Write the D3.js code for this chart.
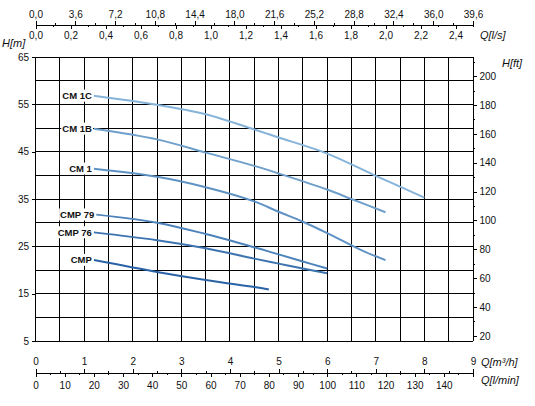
<!DOCTYPE html>
<html>
<head>
<meta charset="utf-8">
<script src="https://cdn.jsdelivr.net/npm/d3@7"></script>
<style>
  html, body { margin: 0; padding: 0; background: #fff; }
  svg { display: block; font-family: "Liberation Sans", Arial, sans-serif; }
</style>
</head>
<body>
<svg id="chart" width="535" height="406"></svg>
<script>
// ---- Data (Q in m3/h, H in m) ----
const seriesNames = ["CM 1C", "CM 1B", "CM 1", "CMP 79", "CMP 76", "CMP"];
const seriesColors = ["#86b3d9", "#6f9fcb", "#5f92c4", "#4d83bb", "#3d74b0", "#2a62a6"];
const qCM1C  = [1.2, 2.5, 3.5, 4.5, 5.0, 6.0, 7.0, 8.0];
const hCM1C  = [56.8, 54.9, 52.9, 49.7, 48.0, 44.6, 39.9, 35.3];
const qCM1B  = [1.2, 2.5, 3.5, 4.5, 5.0, 6.0, 6.5, 7.2];
const hCM1B  = [49.85, 47.6, 44.8, 42.0, 40.4, 37.0, 35.0, 32.2];
const qCM1   = [1.2, 2.5, 3.5, 4.5, 5.0, 5.5, 6.0, 6.7, 7.2];
const hCM1   = [41.4, 39.7, 37.5, 34.5, 32.3, 30.2, 27.8, 24.2, 22.1];
const qCMP79 = [1.25, 2.5, 3.5, 4.5, 5.0, 5.5, 6.0];
const hCMP79 = [31.7, 30.0, 27.6, 24.8, 23.3, 21.8, 20.3];
const qCMP76 = [1.2, 2.5, 3.5, 4.5, 5.0, 5.5, 6.0];
const hCMP76 = [27.95, 26.3, 24.6, 22.4, 21.35, 20.3, 19.3];
const qCMP   = [1.2, 2.5, 3.5, 4.5, 4.8];
const hCMP   = [22.1, 19.6, 17.9, 16.4, 15.9];
const seriesQ = [qCM1C, qCM1B, qCM1, qCMP79, qCMP76, qCMP];
const seriesH = [hCM1C, hCM1B, hCM1, hCMP79, hCMP76, hCMP];

// tick labels
const hTicks    = [5, 15, 25, 35, 45, 55, 65];
const ftTicks   = [20, 40, 60, 80, 100, 120, 140, 160, 180, 200];
const m3hTicks  = [0, 1, 2, 3, 4, 5, 6, 7, 8, 9];
const lminTicks = [0, 10, 20, 30, 40, 50, 60, 70, 80, 90, 100, 110, 120, 130, 140];
const lsTicks   = [0, 0.2, 0.4, 0.6, 0.8, 1.0, 1.2, 1.4, 1.6, 1.8, 2.0, 2.2, 2.4];
const gpmTicks  = [0, 3.6, 7.2, 10.8, 14.4, 18.0, 21.6, 25.2, 28.8, 32.4, 36.0, 39.6];

// ---- Layout ----
const L = 35.5, R = 473, T = 57, B = 341;
const FT = 3.28084;
const svg = d3.select("#chart");
const font = '"Liberation Sans", Arial, sans-serif';

const xQ    = d3.scaleLinear().domain([0, 9]).range([L, R]);
const xLmin = d3.scaleLinear().domain([0, 150]).range([L, R]);
const xLs   = d3.scaleLinear().domain([0, 2.5]).range([L, R]);
const xGpm  = d3.scaleLinear().domain([0, 39.6]).range([L, R]);
const yH    = d3.scaleLinear().domain([5, 65]).range([B, T]);
const yFt   = d3.scaleLinear().domain([5 * FT, 65 * FT]).range([B, T]);

const comma1 = d => d3.format(".1f")(d).replace(".", ",");

function styleAxis(g, size) {
  g.select(".domain").remove();
  g.selectAll("line").attr("stroke", "#000").attr("stroke-width", 1).attr("shape-rendering", "crispEdges");
  g.selectAll("text").attr("fill", "#111").attr("font-size", size || 10).attr("font-family", font);
}

// ---- Grid ----
const grid = svg.append("g").attr("shape-rendering", "crispEdges").attr("stroke", "#000").attr("stroke-width", 1);
grid.selectAll("line.v").data(d3.range(0, 9.01, 0.5)).join("line")
  .attr("x1", d => xQ(d)).attr("x2", d => xQ(d)).attr("y1", T).attr("y2", B);
grid.selectAll("line.h").data(d3.range(5, 65.01, 5)).join("line").attr("class", "h")
  .attr("x1", L).attr("x2", R).attr("y1", d => yH(d)).attr("y2", d => yH(d));

// ---- Left axis (m) ----
svg.append("g").attr("transform", `translate(${L},0)`)
  .call(d3.axisLeft(yH).tickValues(hTicks).tickSize(4).tickPadding(2.5).tickFormat(d3.format("d")))
  .call(g => styleAxis(g));

// ---- Right axis (ft) ----
svg.append("g").attr("transform", `translate(${R},0)`)
  .call(d3.axisRight(yFt).tickValues(d3.range(30, 211, 20)).tickSize(2).tickFormat(""))
  .call(g => styleAxis(g));
svg.append("g").attr("transform", `translate(${R},0)`)
  .call(d3.axisRight(yFt).tickValues(ftTicks).tickSize(4).tickPadding(2.5).tickFormat(d3.format("d")))
  .call(g => styleAxis(g));

// ---- Top axes ----
const topY = 25;
svg.append("line").attr("x1", L).attr("x2", R).attr("y1", topY).attr("y2", topY)
  .attr("stroke", "#000").attr("shape-rendering", "crispEdges");
svg.append("g").attr("transform", `translate(0,${topY})`)
  .call(d3.axisTop(xGpm).tickValues(d3.range(1.8, 39.6, 3.6)).tickSize(2).tickFormat(""))
  .call(g => styleAxis(g));
svg.append("g").attr("transform", `translate(0,${topY})`)
  .call(d3.axisTop(xGpm).tickValues(gpmTicks).tickSize(4).tickPadding(3.5).tickFormat(comma1))
  .call(g => styleAxis(g));
svg.append("g").attr("transform", `translate(0,${topY})`)
  .call(d3.axisBottom(xLs).tickValues(d3.range(0.1, 2.55, 0.2)).tickSize(2).tickFormat(""))
  .call(g => styleAxis(g));
svg.append("g").attr("transform", `translate(0,${topY})`)
  .call(d3.axisBottom(xLs).tickValues(lsTicks).tickSize(4).tickPadding(2.4).tickFormat(comma1))
  .call(g => styleAxis(g));

// ---- Bottom axes ----
const botY = 373;
svg.append("line").attr("x1", L).attr("x2", R).attr("y1", botY).attr("y2", botY)
  .attr("stroke", "#000").attr("shape-rendering", "crispEdges");
svg.append("g").attr("transform", `translate(0,${botY})`)
  .call(d3.axisTop(xQ).tickValues(d3.range(0.5, 9, 1)).tickSize(2).tickFormat(""))
  .call(g => styleAxis(g));
svg.append("g").attr("transform", `translate(0,${botY})`)
  .call(d3.axisTop(xQ).tickValues(m3hTicks).tickSize(4).tickPadding(4).tickFormat(d3.format("d")))
  .call(g => styleAxis(g));
svg.append("g").attr("transform", `translate(0,${botY})`)
  .call(d3.axisBottom(xLmin).tickValues(d3.range(5, 150, 10)).tickSize(2).tickFormat(""))
  .call(g => styleAxis(g));
svg.append("g").attr("transform", `translate(0,${botY})`)
  .call(d3.axisBottom(xLmin).tickValues(lminTicks.concat([150])).tickSize(4).tickPadding(4.4)
    .tickFormat(d => d === 150 ? "" : d3.format("d")(d)))
  .call(g => styleAxis(g));

// ---- Unit titles ----
const titles = [
  { t: "H[m]",    x: 2,   y: 46.5, a: "start" },
  { t: "Q[l/s]",  x: 480, y: 38.5, a: "start" },
  { t: "H[ft]",   x: 502, y: 67,   a: "start" },
  { t: "Q[m³/h]", x: 481, y: 365.5, a: "start" },
  { t: "Q[l/min]", x: 481, y: 384, a: "start" }
];
svg.append("g").selectAll("text").data(titles).join("text")
  .attr("x", d => d.x).attr("y", d => d.y).attr("text-anchor", d => d.a)
  .attr("font-size", 11).attr("font-style", "italic").attr("fill", "#111")
  .attr("font-family", font).text(d => d.t);

// ---- Curves ----
const line = d3.line().x(d => xQ(d[0])).y(d => yH(d[1])).curve(d3.curveCatmullRom.alpha(0.5));
const series = seriesNames.map((n, i) => ({
  name: n, color: seriesColors[i],
  pts: seriesQ[i].map((q, j) => [q, seriesH[i][j]])
}));
svg.append("g").selectAll("path").data(series).join("path")
  .attr("d", d => line(d.pts)).attr("fill", "none")
  .attr("stroke", d => d.color).attr("stroke-width", 2).attr("stroke-linecap", "butt");

// labels with white background
const lab = svg.append("g").selectAll("g").data(series).join("g");
const labText = lab.append("text")
  .attr("x", d => xQ(d.pts[0][0]) - 2).attr("y", d => yH(d.pts[0][1]))
  .attr("dy", "0.35em").attr("text-anchor", "end")
  .attr("font-size", 9.5).attr("font-weight", "bold").attr("fill", "#111")
  .attr("font-family", font).text(d => d.name);
labText.each(function() {
  const bb = this.getBBox();
  d3.select(this.parentNode).insert("rect", "text")
    .attr("x", bb.x - 1).attr("y", bb.y - 0.5)
    .attr("width", bb.width + 2).attr("height", bb.height + 1)
    .attr("fill", "#fff");
});
</script>
</body>
</html>
